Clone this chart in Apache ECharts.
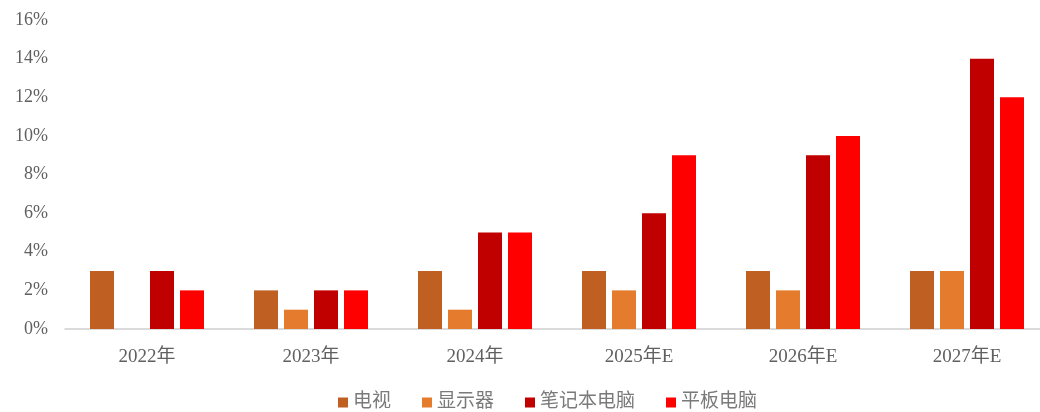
<!DOCTYPE html>
<html>
<head>
<meta charset="utf-8">
<script src="https://cdn.jsdelivr.net/npm/echarts@6/dist/echarts.min.js"></script>
<style>
  html, body { margin: 0; padding: 0; background: #fff; }
  #chart { width: 1040px; height: 412px; }
</style>
</head>
<body>
<div id="chart"></div>
<script>
const categories = ['2022年', '2023年', '2024年', '2025年E', '2026年E', '2027年E'];
const tvValues = [3, 2, 3, 3, 3, 3];
const monitorValues = [null, 1, 1, 2, 2, 3];
const laptopValues = [3, 2, 5, 6, 9, 14];
const tabletValues = [2, 2, 5, 9, 10, 12];
const seriesNames = ['电视', '显示器', '笔记本电脑', '平板电脑'];
const seriesColors = ['#BF5F22', '#E57B2C', '#C00000', '#FF0000'];

const font = "'Liberation Serif', 'Noto Sans CJK SC', serif";
const chart = echarts.init(document.getElementById('chart'));

const allValues = [tvValues, monitorValues, laptopValues, tabletValues];

chart.setOption({
  animation: false,
  backgroundColor: '#fff',
  grid: { left: 65, top: 20, right: -9, bottom: 83, containLabel: false, outerBoundsMode: 'none' },
  legend: {
    bottom: -5,
    left: 333,
    itemWidth: 10,
    itemHeight: 10,
    itemGap: 31,
    icon: 'rect',
    textStyle: { fontFamily: font, fontSize: 19, color: '#7a7a7a' },
    data: seriesNames
  },
  xAxis: {
    type: 'category',
    data: categories,
    axisLine: { lineStyle: { color: '#d0d0d0', width: 1.5 } },
    axisTick: { show: false },
    axisLabel: { fontFamily: font, fontSize: 19, color: '#606060', margin: 19 }
  },
  yAxis: {
    type: 'value',
    min: 0,
    max: 16,
    interval: 2,
    splitLine: { show: false },
    axisLine: { show: false },
    axisTick: { show: false },
    axisLabel: { fontFamily: font, fontSize: 18, color: '#606060', margin: 17, formatter: '{value}%' }
  },
  series: seriesNames.map((name, i) => ({
    name: name,
    type: 'bar',
    data: allValues[i],
    barWidth: 24,
    barGap: '25%',
    itemStyle: { color: seriesColors[i] }
  }))
});
</script>
</body>
</html>
